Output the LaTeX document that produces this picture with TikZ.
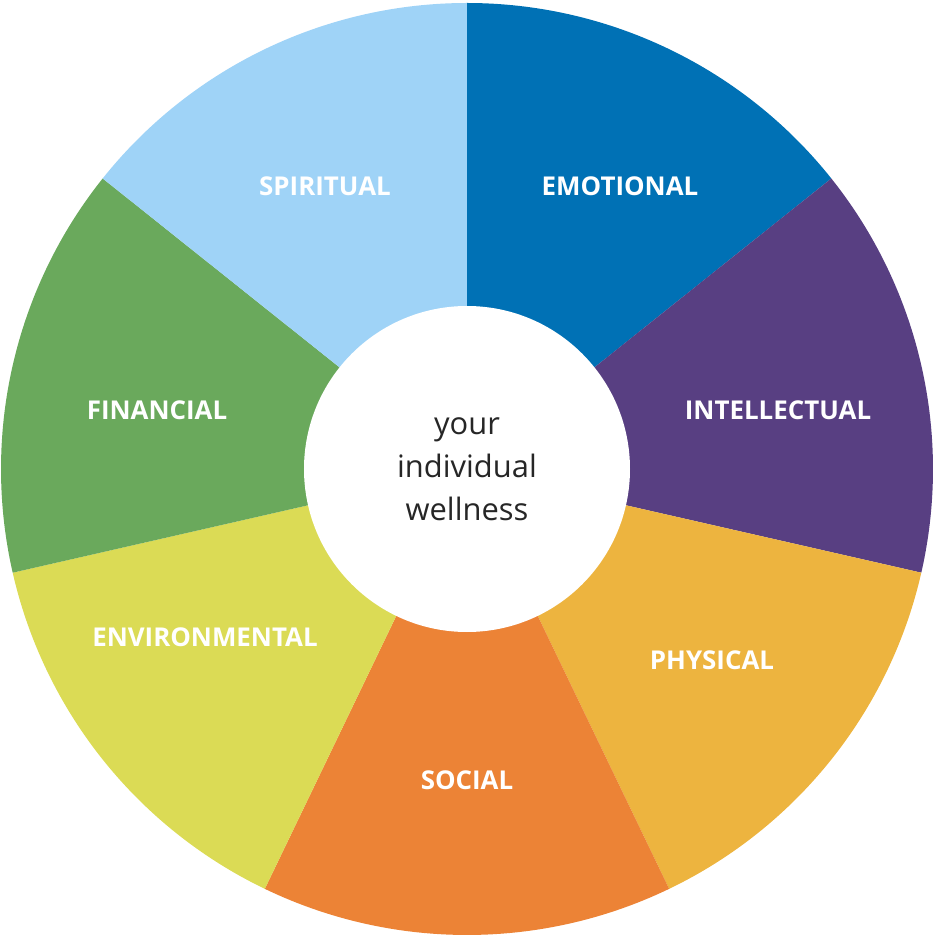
\documentclass[tikz,border=0pt]{standalone}
\usepackage{fontspec}
\setmainfont{Open Sans}
\definecolor{cEmo}{HTML}{0071B5}
\definecolor{cInt}{HTML}{583F82}
\definecolor{cPhy}{HTML}{EDB43F}
\definecolor{cSoc}{HTML}{EC8336}
\definecolor{cEnv}{HTML}{DBDB55}
\definecolor{cFin}{HTML}{6AA95C}
\definecolor{cSpi}{HTML}{9FD3F7}
\begin{document}
\begin{tikzpicture}[x=1bp,y=1bp,
  lab/.style={text=white,font=\fontsize{26}{30}\selectfont\bfseries},
  ctr/.style={text=black!85,font=\fontsize{31}{43}\selectfont,align=center}]
\useasboundingbox (-467,-469) rectangle (466,469);
\def\R{466}
\foreach \c [count=\i from 0] in {cEmo,cInt,cPhy,cSoc,cEnv,cFin,cSpi}{
  \pgfmathsetmacro\aa{90-\i*360/7}
  \pgfmathsetmacro\ab{90-(\i+1)*360/7}
  \fill[\c] (0,0) -- (\aa:\R) arc[start angle=\aa,end angle=\ab,radius=\R] -- cycle;
}
\fill[white] (0,0) circle (163);
\node[lab] (emo) at (153,283) {EMOTIONAL};
\node[lab] (int) at (311,59) {INTELLECTUAL};
\node[lab] (phy) at (245,-191) {PHYSICAL};
\node[lab] (soc) at (0,-311) {SOCIAL};
\node[lab] (env) at (-262,-168) {ENVIRONMENTAL};
\node[lab] (fin) at (-310,59) {FINANCIAL};
\node[lab] (spi) at (-142,283) {SPIRITUAL};
\node[ctr] (c) at (0,0) {your\\individual\\wellness};
\end{tikzpicture}
\end{document}
